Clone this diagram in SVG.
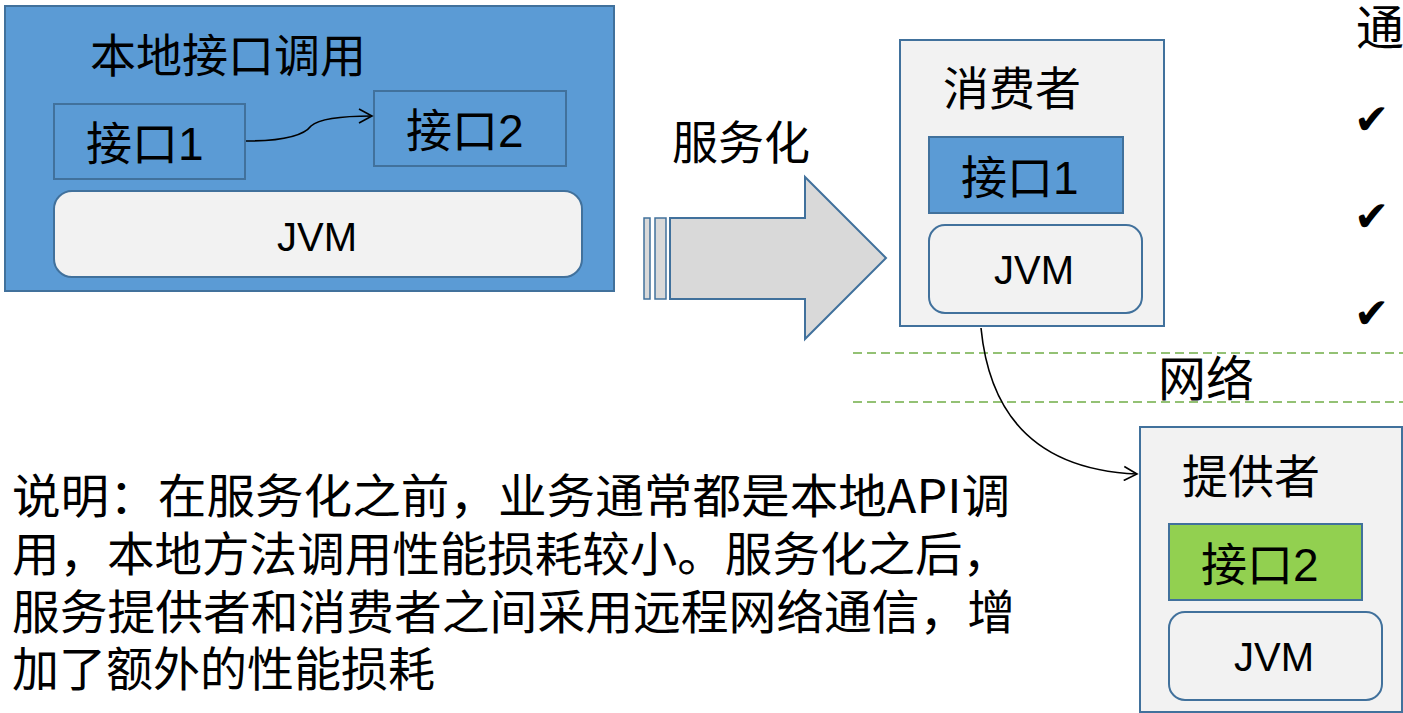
<svg xmlns="http://www.w3.org/2000/svg" width="1403" height="713" viewBox="0 0 1403 713">
<style>
.cjk{font-family:"Noto Sans CJK SC","Noto Sans",sans-serif;fill:#000}
.lat{font-family:"Liberation Sans",Arial,sans-serif;fill:#000}
.chk{font-family:"DejaVu Sans",sans-serif;fill:#000;font-size:42px}
.blue{fill:#5B9BD5;stroke:#41719C;stroke-width:2}
.light{fill:#F2F2F2;stroke:#41719C;stroke-width:2}
.green{fill:#92D050;stroke:#41719C;stroke-width:2}
.conn{fill:none;stroke:#000;stroke-width:1.6}
.dash{stroke:#70AD47;stroke-width:1.5;stroke-dasharray:9 5;fill:none}
</style>
<defs>
<marker id="open" markerWidth="16" markerHeight="16" refX="14" refY="8" orient="auto" markerUnits="userSpaceOnUse">
<path d="M1,1 L14,8 L1,15" fill="none" stroke="#000" stroke-width="1.6"/>
</marker>
</defs>
<rect width="1403" height="713" fill="#fff"/>

<g id="local">
<rect class="blue" x="5" y="6" width="609" height="285"/>
<text class="cjk" x="90" y="72" font-size="46">本地接口调用</text>
</g>
<g id="local-if1">
<rect class="blue" x="54" y="104" width="191" height="75"/>
<text class="cjk" x="86" y="160" font-size="46">接口<tspan class="lat" font-size="46">1</tspan></text>
</g>
<g id="local-if2">
<rect class="blue" x="374" y="91" width="192" height="75"/>
<text class="cjk" x="406" y="147" font-size="46">接口<tspan class="lat" font-size="46">2</tspan></text>
</g>
<g id="local-jvm">
<rect class="light" x="54" y="191" width="528" height="86" rx="18"/>
<text class="lat" x="317" y="251" font-size="40" text-anchor="middle">JVM</text>
</g>

<g id="transform">
<rect x="644" y="218" width="6" height="81" fill="#D9D9D9" stroke="#41719C" stroke-width="1.5"/>
<rect x="655" y="218" width="11" height="81" fill="#D9D9D9" stroke="#41719C" stroke-width="1.5"/>
<path d="M670,218 L805,218 L805,177 L886,258 L805,339 L805,299 L670,299 Z" fill="#D9D9D9" stroke="#41719C" stroke-width="2"/>
<text class="cjk" x="672" y="159" font-size="46">服务化</text>
</g>

<g id="consumer">
<rect class="light" x="900" y="40" width="264" height="286"/>
<text class="cjk" x="943" y="105" font-size="46">消费者</text>
</g>
<g id="consumer-if1">
<rect class="blue" x="929" y="137" width="194" height="76"/>
<text class="cjk" x="961" y="194" font-size="46">接口<tspan class="lat" font-size="46">1</tspan></text>
</g>
<g id="consumer-jvm">
<rect class="light" x="929" y="225" width="213" height="88" rx="16"/>
<text class="lat" x="1034" y="284" font-size="40" text-anchor="middle">JVM</text>
</g>

<g id="network">
<line class="dash" x1="853" y1="353" x2="1403" y2="353"/>
<line class="dash" x1="853" y1="402" x2="1403" y2="402"/>
<text class="cjk" x="1158" y="396" font-size="48">网络</text>
</g>

<g id="provider">
<rect class="light" x="1140" y="427" width="262" height="285"/>
<text class="cjk" x="1182" y="493" font-size="46">提供者</text>
</g>
<g id="provider-if2">
<rect class="green" x="1169" y="524" width="193" height="76"/>
<text class="cjk" x="1201" y="581" font-size="46">接口<tspan class="lat" font-size="46">2</tspan></text>
</g>
<g id="provider-jvm">
<rect class="light" x="1169" y="612" width="213" height="88" rx="16"/>
<text class="lat" x="1274" y="671" font-size="40" text-anchor="middle">JVM</text>
</g>

<g id="side">
<text class="cjk" x="1356" y="45" font-size="48">通</text>
<text class="chk" x="1354" y="134">✔</text>
<text class="chk" x="1354" y="231">✔</text>
<text class="chk" x="1354" y="328">✔</text>
</g>

<g id="connectors">
<path class="conn" d="M246,141 C290,141 305,134 311,126 C320,118 345,116 372,116" marker-end="url(#open)"/>
<path class="conn" d="M981,328 C990,420 1040,470 1137,474" marker-end="url(#open)"/>
</g>

<g id="note">
<text class="cjk" x="12" y="513" font-size="47" textLength="998" lengthAdjust="spacingAndGlyphs">说明：在服务化之前，业务通常都是本地API调</text>
<text class="cjk" x="12" y="571" font-size="47" textLength="998" lengthAdjust="spacingAndGlyphs">用，本地方法调用性能损耗较小。服务化之后，</text>
<text class="cjk" x="12" y="629" font-size="47" textLength="1003" lengthAdjust="spacingAndGlyphs">服务提供者和消费者之间采用远程网络通信，增</text>
<text class="cjk" x="12" y="686" font-size="47">加了额外的性能损耗</text>
</g>
</svg>
